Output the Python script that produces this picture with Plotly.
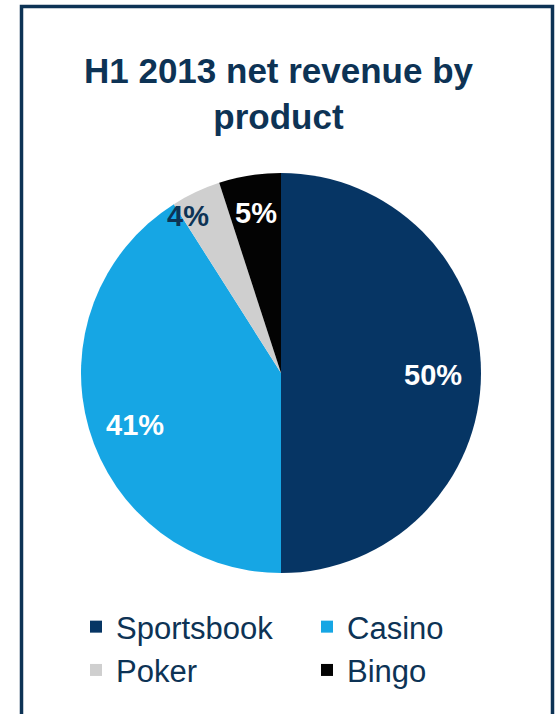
import math
import plotly.graph_objects as go

# Net revenue split for H1 2013, in percent
products = ["Sportsbook", "Casino", "Poker", "Bingo"]
shares = [50, 41, 4, 5]
slice_colors = ["#063564", "#16a6e4", "#cfcfcf", "#030303"]
label_colors = ["#ffffff", "#ffffff", "#0d3355", "#ffffff"]
# radial position of each percentage label as a fraction of the radius,
# plus a small pixel nudge
label_radius = [0.76, 0.77, 0.93, 0.81]
label_shift_x = [0, 2, -14, 0]
label_shift_y = [2, 9, 11, 0]

W, H = 557, 714
NAVY = "#0d3355"
FONT = "Liberation Sans, Arial, sans-serif"

# pie placement in pixels
cx, cy, R = 281, 373, 200

fig = go.Figure()
fig.add_trace(go.Pie(
    labels=products,
    values=shares,
    sort=False,
    direction="clockwise",
    rotation=0,
    marker=dict(colors=slice_colors, line=dict(width=0)),
    textinfo="none",
    hoverinfo="label+percent",
    domain=dict(x=[(cx - R) / W, (cx + R) / W],
                y=[1 - (cy + R) / H, 1 - (cy - R) / H]),
))

# percentage labels placed at each slice's mid angle
total = sum(shares)
cum = 0
for v, col, rf, dx, dy in zip(shares, label_colors, label_radius, label_shift_x, label_shift_y):
    mid = (cum + v / 2) / total * 2 * math.pi
    cum += v
    px = cx + rf * R * math.sin(mid) + dx
    py = cy - rf * R * math.cos(mid) + dy
    fig.add_annotation(
        x=px / W, y=1 - py / H, xref="paper", yref="paper",
        text=f"{round(v / total * 100)}%", showarrow=False,
        font=dict(family=FONT, size=29, color=col, weight="bold"),
        xanchor="center", yanchor="middle",
    )

# frame around the panel (open at the bottom)
fig.add_shape(
    type="path", xref="paper", yref="paper",
    path=f"M {21.5 / W} 0 L {21.5 / W} {1 - 6.5 / H} L {552.5 / W} {1 - 6.5 / H} L {552.5 / W} 0",
    line=dict(color=NAVY, width=3.5),
)

fig.update_layout(
    width=W, height=H,
    margin=dict(l=0, r=0, t=0, b=0),
    paper_bgcolor="white", plot_bgcolor="white",
    title=dict(
        text="<b>H1 2013 net revenue by<br>product</b>",
        x=0.5, xanchor="center", y=1 - 83 / H, yanchor="middle",
        font=dict(family=FONT, size=35, color=NAVY),
    ),
    showlegend=True,
    legend=dict(
        orientation="h",
        x=76 / W, xanchor="left",
        y=1 - 600 / H, yanchor="top",
        entrywidth=186,
        font=dict(family=FONT, size=31, color=NAVY),
        bgcolor="rgba(0,0,0,0)",
        itemclick=False, itemdoubleclick=False,
    ),
)

fig.write_html("out.html")
